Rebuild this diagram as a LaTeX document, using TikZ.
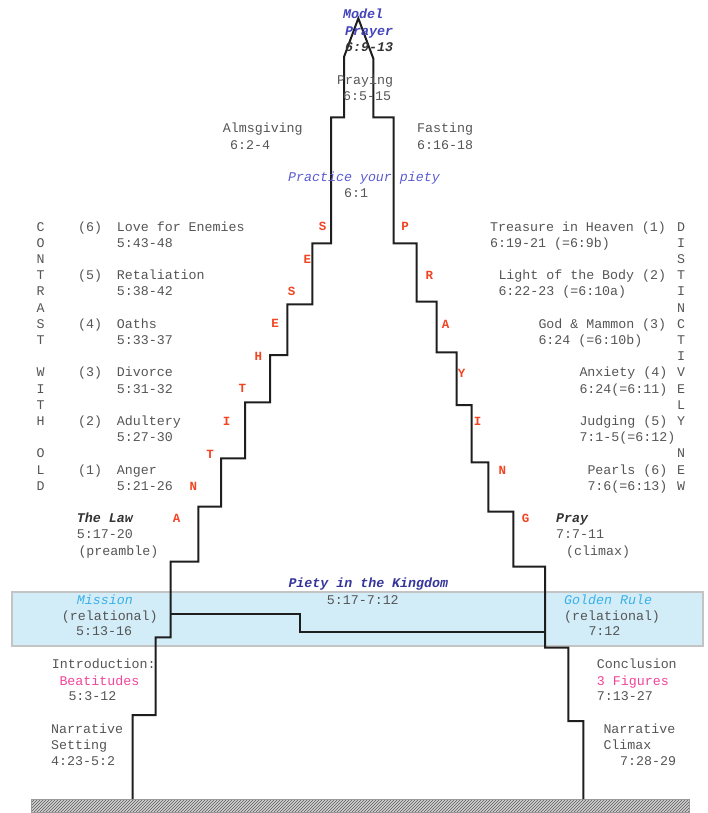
\documentclass[tikz,border=0pt]{standalone}
\usepackage{fontspec}
\setmainfont{Liberation Mono}
\usetikzlibrary{patterns}
\definecolor{txtgrey}{HTML}{555555}
\definecolor{redl}{HTML}{F04422}
\definecolor{modelblue}{HTML}{4444BB}
\definecolor{practblue}{HTML}{5A5AD0}
\definecolor{kingblue}{HTML}{35359A}
\definecolor{missblue}{HTML}{38B0E8}
\definecolor{pinkl}{HTML}{F0449A}
\definecolor{bandfill}{HTML}{D3EDF8}
\definecolor{bandedge}{HTML}{C4C4C4}
\definecolor{stair}{HTML}{1E1E1E}
\tikzset{
  lbl/.style={inner sep=0pt, anchor=base west, text=txtgrey, font=\fontsize{13.3}{16}\selectfont},
  redletter/.style={inner sep=0pt, anchor=center, text=redl, font=\fontsize{12.5}{15}\selectfont\bfseries},
  vletter/.style={inner sep=0pt, anchor=base west, text=txtgrey, font=\fontsize{13.3}{16}\selectfont},
  bolditblue/.style={text=modelblue, font=\fontsize{13.3}{16}\selectfont\bfseries\itshape},
  bolditdark/.style={text=black!80, font=\fontsize{13.3}{16}\selectfont\bfseries\itshape},
  practice/.style={text=practblue, font=\fontsize{13.3}{16}\selectfont\itshape},
  kingdom/.style={text=kingblue, font=\fontsize{13.3}{16}\selectfont\bfseries\itshape},
  mission/.style={text=missblue, font=\fontsize{13.3}{16}\selectfont\itshape},
  pinktxt/.style={text=pinkl, font=\fontsize{13.3}{16}\selectfont},
  stairline/.style={draw=stair, line width=2pt, line join=miter},
  band/.style={fill=bandfill, draw=bandedge, line width=2pt},
  ground/.style={pattern=north east lines, pattern color=black!65, draw=gray!80, line width=1pt}
}
\newcommand\Lbl[5][]{\node[lbl,#1] (#2) at (#3,#4) {#5};}
\begin{document}
\begin{tikzpicture}[x=1pt,y=-1pt]
\useasboundingbox (0,0) rectangle (707,813);
% band and ground
\path[band] (11.7,591.7) rectangle (702.7,646);
\fill[gray!35] (31.7,799) rectangle (689.3,812);
\path[ground] (31.7,799) rectangle (689.3,812);
% staircase
\draw[stairline] (132.7,799) -- (132.7,715) -- (155.7,715) -- (155.7,637.3) -- (170.7,637.3)
  -- (170.7,561.7) -- (198.3,561.7) -- (198.3,506.7) -- (221,506.7) -- (221,458.3)
  -- (245,458.3) -- (245,402.3) -- (270,402.3) -- (270,355) -- (287.3,355) -- (287.3,304.3)
  -- (312.3,304.3) -- (312.3,243.3) -- (331,243.3) -- (331,117.3) -- (344,117.3) -- (344,57)
  -- (358.3,18.3) -- (373.3,58.5) -- (373.3,117.3) -- (393.5,117.3) -- (393.5,243.3)
  -- (416.7,243.3) -- (416.7,301.7) -- (436.7,301.7) -- (436.7,352.3) -- (456.7,352.3)
  -- (456.7,405) -- (471.7,405) -- (471.7,462.3) -- (488.3,462.3) -- (488.3,511.7)
  -- (513.3,511.7) -- (513.3,566.7) -- (545,566.7) -- (545,647.7) -- (568.3,647.7)
  -- (568.3,721) -- (583.3,721) -- (583.3,799);
\coordinate (innerA) at (170.7,614.3);
\coordinate (innerB) at (300,614.3);
\coordinate (innerC) at (300,632.3);
\coordinate (innerD) at (545,632.3);
\draw[stairline, line width=1.8pt] (innerA) -- (innerB) -- (innerC) -- (innerD);
% top
\Lbl[bolditblue]{mp1}{343}{19}{Model}
\Lbl[bolditblue]{mp2}{345}{36}{Prayer}
\Lbl[bolditdark]{mp3}{345}{52}{6:9-13}
\Lbl{pr1}{337}{85}{Praying}
\Lbl{pr2}{343}{101}{6:5-15}
\Lbl{al1}{222.7}{133}{Almsgiving}
\Lbl{al2}{230}{150}{6:2-4}
\Lbl{fa1}{417}{133}{Fasting}
\Lbl{fa2}{417}{150}{6:16-18}
\Lbl[practice]{pp1}{288}{182}{Practice your piety}
\Lbl{pp2}{344}{197}{6:1}
% vertical words
\foreach \i/\ch in {0/C,1/O,2/N,3/T,4/R,5/A,6/S,7/T,9/W,10/I,11/T,12/H,14/O,15/L,16/D}
  \node[vletter] (cwo\i) at (36.5,231+16.2*\i) {\ch};
\foreach \i/\ch in {0/D,1/I,2/S,3/T,4/I,5/N,6/C,7/T,8/I,9/V,10/E,11/L,12/Y,14/N,15/E,16/W}
  \node[vletter] (dn\i) at (677,231+16.2*\i) {\ch};
% left antitheses
\Lbl{n6}{78}{231}{(6)}
\Lbl{l6a}{116.7}{231}{Love for Enemies}
\Lbl{l6b}{116.7}{247.2}{5:43-48}
\Lbl{n5}{78}{279.6}{(5)}
\Lbl{l5a}{116.7}{279.6}{Retaliation}
\Lbl{l5b}{116.7}{295.8}{5:38-42}
\Lbl{n4}{78}{328.2}{(4)}
\Lbl{l4a}{116.7}{328.2}{Oaths}
\Lbl{l4b}{116.7}{344.4}{5:33-37}
\Lbl{n3}{78}{376.8}{(3)}
\Lbl{l3a}{116.7}{376.8}{Divorce}
\Lbl{l3b}{116.7}{393}{5:31-32}
\Lbl{n2}{78}{425.4}{(2)}
\Lbl{l2a}{116.7}{425.4}{Adultery}
\Lbl{l2b}{116.7}{441.6}{5:27-30}
\Lbl{n1}{78}{474}{(1)}
\Lbl{l1a}{116.7}{474}{Anger}
\Lbl{l1b}{116.7}{490.2}{5:21-26}
% right items
\Lbl{r1a}{490}{231}{Treasure in Heaven (1)}
\Lbl{r1b}{490}{247.2}{6:19-21 (=6:9b)}
\Lbl{r2a}{498.3}{279.6}{Light of the Body (2)}
\Lbl{r2b}{498.3}{295.8}{6:22-23 (=6:10a)}
\Lbl{r3a}{538.3}{328.2}{God \& Mammon (3)}
\Lbl{r3b}{538.3}{344.4}{6:24 (=6:10b)}
\Lbl{r4a}{579.3}{376.8}{Anxiety (4)}
\Lbl{r4b}{579.3}{393}{6:24(=6:11)}
\Lbl{r5a}{579.3}{425.4}{Judging (5)}
\Lbl{r5b}{579.3}{441.6}{7:1-5(=6:12)}
\Lbl{r6a}{587.3}{474}{Pearls (6)}
\Lbl{r6b}{587.3}{490.2}{7:6(=6:13)}
% red letters
\foreach \i/\ch/\x/\y in {1/S/322.7/226.7, 2/E/307.3/259.3, 3/S/291.7/291, 4/E/275/323.3,
  5/H/258.3/356.7, 6/T/242.3/388.3, 7/I/226.7/421, 8/T/210/454.3, 9/N/193.3/486, 10/A/176.7/518.3}
  \node[redletter] (ant\i) at (\x,\y) {\ch};
\foreach \i/\ch/\x/\y in {1/P/405/226.7, 2/R/429.3/275.7, 3/A/445.7/324.3, 4/Y/461.7/373.3,
  5/I/477.7/421.7, 6/N/502.3/470, 7/G/525.7/518.3}
  \node[redletter] (pry\i) at (\x,\y) {\ch};
% bottom left
\Lbl[bolditdark]{law1}{76.7}{522.3}{The Law}
\Lbl{law2}{76.7}{538.3}{5:17-20}
\Lbl{law3}{78.3}{555}{(preamble)}
\Lbl[mission]{mis1}{76.7}{604}{Mission}
\Lbl{mis2}{61.7}{620}{(relational)}
\Lbl{mis3}{76}{635.7}{5:13-16}
\Lbl{int1}{51.7}{668.3}{Introduction:}
\Lbl[pinktxt]{int2}{59.3}{685}{Beatitudes}
\Lbl{int3}{68.3}{700.7}{5:3-12}
\Lbl{set1}{51}{733.3}{Narrative}
\Lbl{set2}{51}{749.7}{Setting}
\Lbl{set3}{51}{765.7}{4:23-5:2}
% middle
\Lbl[kingdom]{pk1}{288.3}{587.3}{Piety in the Kingdom}
\Lbl{pk2}{326.7}{604}{5:17-7:12}
% bottom right
\Lbl[bolditdark]{pray1}{556}{522.3}{Pray}
\Lbl{pray2}{556}{538.3}{7:7-11}
\Lbl{pray3}{566}{555}{(climax)}
\Lbl[mission]{gr1}{564}{604}{Golden Rule}
\Lbl{gr2}{564}{620}{(relational)}
\Lbl{gr3}{588.3}{635.7}{7:12}
\Lbl{con1}{596.7}{668.3}{Conclusion}
\Lbl[pinktxt]{con2}{596.7}{685}{3 Figures}
\Lbl{con3}{596.7}{700.7}{7:13-27}
\Lbl{cli1}{603.3}{733.3}{Narrative}
\Lbl{cli2}{603.3}{749.7}{Climax}
\Lbl{cli3}{620}{765.7}{7:28-29}
\end{tikzpicture}
\end{document}
